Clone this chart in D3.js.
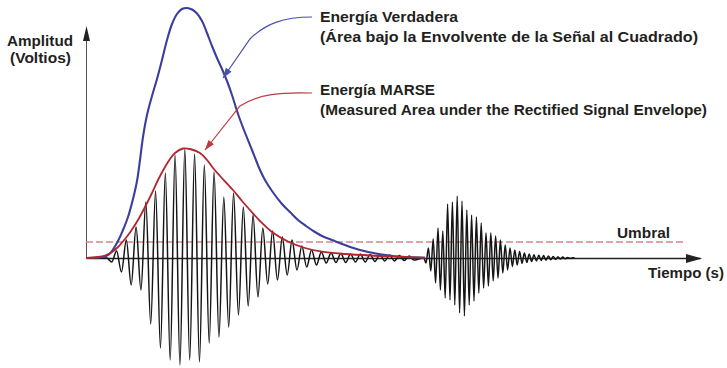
<!DOCTYPE html>
<html>
<head>
<meta charset="utf-8">
<script src="https://cdn.jsdelivr.net/npm/d3@7"></script>
<style>
  html, body { margin: 0; padding: 0; background: #fff; }
  svg { display: block; }
  text {
    font-family: "Liberation Sans", Arial, Helvetica, sans-serif;
    font-weight: bold;
    fill: #231f20;
  }
</style>
</head>
<body>
<div id="chart"></div>
<script>
// Time is in µs, amplitude in volts (both).

// First burst: alternating half-cycle extremes of the signal
const burst1Start = 12.85;
const burst1Half = 2.4375;
const burst1Peaks = [
  -0.04, 0.07, -0.14, 0.18, -0.27, 0.31, -0.32, 0.56, -0.66, 0.67,
  -0.90, 0.85, -1.02, 1.03, -1.07, 1.09, -1.02, 1.04, -1.04, 0.93,
  -0.85, 0.86, -0.79, 0.61, -0.69, 0.65, -0.57, 0.51, -0.48, 0.43,
  -0.39, 0.30, -0.26, 0.27, -0.22, 0.21, -0.17, 0.18, -0.12, 0.12,
  -0.09, 0.08, -0.07, 0.06, -0.05, 0.05, -0.045, 0.045, -0.045, 0.04,
  -0.04, 0.04, -0.04, 0.035, -0.035, 0.035, -0.03, 0.03, -0.03, 0.025,
  -0.025, 0.02, -0.02, -0.01, 0
];

// Second (later) burst
const burst2Start = 170;
const burst2Half = 1.2;
const burst2Peaks = [
  -0.05, 0.10, -0.13, 0.19, -0.25, 0.30, -0.32, 0.27, -0.40, 0.54,
  -0.42, 0.56, -0.47, 0.62, -0.55, 0.57, -0.58, 0.48, -0.47, 0.43,
  -0.43, 0.41, -0.35, 0.35, -0.30, 0.25, -0.28, 0.25, -0.23, 0.22,
  -0.20, 0.18, -0.15, 0.13, -0.12, 0.10, -0.085, 0.08, -0.07, 0.065,
  -0.055, 0.05, -0.045, 0.04, -0.035, 0.032, -0.03, 0.028, -0.026, 0.024,
  -0.022, 0.02, -0.018, 0.016, -0.015, 0.013, -0.011, 0.01, -0.008, 0.006,
  -0.004, 0.002, 0
];

// Rectified signal envelope (MARSE)
const envelopeTimes = [
  0, 6, 9.5, 13, 16, 19.5, 22.5, 26, 29.5, 33, 36, 39.5, 42, 44.5, 48.5,
  52, 57, 60.5, 63.5, 67, 73.5, 78, 82, 87, 93, 101, 109.5, 118, 129.5,
  142, 157, 169.5
];
const envelopeValues = [
  0, 0.01, 0.025, 0.06, 0.11, 0.19, 0.27, 0.38, 0.51, 0.65, 0.78, 0.91,
  0.99, 1.05, 1.095, 1.09, 1.05, 0.98, 0.90, 0.82, 0.68, 0.57, 0.48, 0.37,
  0.26, 0.165, 0.10, 0.063, 0.04, 0.025, 0.013, 0.004
];

// Squared signal envelope (true energy)
const squaredTimes = [
  0, 4.5, 7, 9.5, 12, 16, 18.5, 21, 23.5, 25.5, 27, 28.5, 30.5, 33, 35.5,
  38, 40.5, 43, 45.5, 48, 50.5, 53, 55.5, 58, 60.5, 63, 65.5, 68, 70.5,
  73, 75.5, 78, 83, 87, 89.5, 93, 98, 102, 106, 110, 114.5, 118.5, 123,
  129.5, 137, 147, 157, 169.5
];
const squaredValues = [
  0, 0.002, 0.006, 0.015, 0.045, 0.17, 0.28, 0.41, 0.59, 0.77, 0.98, 1.21,
  1.43, 1.62, 1.79, 1.98, 2.18, 2.34, 2.44, 2.49, 2.50, 2.485, 2.445, 2.37,
  2.25, 2.12, 2.00, 1.89, 1.77, 1.63, 1.47, 1.33, 1.08, 0.88, 0.78, 0.67,
  0.54, 0.46, 0.38, 0.32, 0.26, 0.215, 0.18, 0.13, 0.08, 0.037, 0.013, 0.002
];

const threshold = 0.16;
const thresholdEnd = 300;
const timeMax = 307;
const ampAxisTop = 2.30;

const blueLabel = ['Energía Verdadera', '(Área bajo la Envolvente de la Señal al Cuadrado)'];
const redLabel = ['Energía MARSE', '(Measured Area under the Rectified Signal Envelope)'];
const yLabel = ['Amplitud', '(Voltios)'];
const thresholdLabel = 'Umbral';
const xLabel = 'Tiempo (s)';

const width = 727;
const height = 368;

const svg = d3.select('#chart')
  .append('svg')
  .attr('width', width)
  .attr('height', height);

const x = d3.scaleLinear().domain([0, timeMax]).range([86, 700]);
const y = d3.scaleLinear().domain([-1.1, 2.58]).range([368, 0]);

const blue = '#3b3f9b';
const red = '#b3262e';

// Axes: plain lines with arrowheads, no ticks
const yAxisScale = y.copy().domain([0, ampAxisTop]).range([y(0), y(ampAxisTop)]);

svg.append('g')
  .attr('transform', `translate(0, ${y(0)})`)
  .call(d3.axisBottom(x).tickValues([]).tickSizeOuter(0))
  .select('.domain')
  .attr('stroke', '#222')
  .attr('stroke-width', 1.3);

svg.append('g')
  .attr('transform', `translate(${x(0)}, 0)`)
  .call(d3.axisLeft(yAxisScale).tickValues([]).tickSizeOuter(0))
  .select('.domain')
  .attr('stroke', '#555')
  .attr('stroke-width', 1);

svg.append('path')
  .attr('transform', `translate(${x(timeMax)}, ${y(0) + 0.5})`)
  .attr('d', 'M2,0 L-14,-4.5 L-14,4.5 Z')
  .attr('fill', '#222');

svg.append('path')
  .attr('transform', `translate(${x(0) + 0.5}, ${yAxisScale(ampAxisTop)})`)
  .attr('d', 'M0,-2 L-3.5,13 L3.5,13 Z')
  .attr('fill', '#222');

// Threshold
svg.append('line')
  .attr('x1', x(0))
  .attr('x2', x(thresholdEnd))
  .attr('y1', y(threshold))
  .attr('y2', y(threshold))
  .attr('stroke', '#d9848b')
  .attr('stroke-width', 1.5)
  .attr('stroke-dasharray', '7,3');

// Signal
const signal = [[0, 0], [burst1Start - burst1Half, 0]]
  .concat(burst1Peaks.map((a, i) => [burst1Start + i * burst1Half, a]))
  .concat(burst2Peaks.map((a, i) => [burst2Start + i * burst2Half, a]));

const line = d3.line()
  .x(d => x(d[0]))
  .y(d => y(d[1]))
  .curve(d3.curveMonotoneX);

svg.append('path')
  .attr('d', line(signal))
  .attr('fill', 'none')
  .attr('stroke', '#151515')
  .attr('stroke-width', 1.5);

const smooth = d3.line()
  .x(d => x(d[0]))
  .y(d => y(d[1]))
  .curve(d3.curveCatmullRom);

svg.append('path')
  .attr('d', smooth(squaredTimes.map((t, i) => [t, squaredValues[i]])))
  .attr('fill', 'none')
  .attr('stroke', blue)
  .attr('stroke-width', 2.1);

svg.append('path')
  .attr('d', smooth(envelopeTimes.map((t, i) => [t, envelopeValues[i]])))
  .attr('fill', 'none')
  .attr('stroke', red)
  .attr('stroke-width', 1.8);

// Call-out arrows from labels to curves
function callout(d, tip, color) {
  svg.append('path')
    .attr('d', d)
    .attr('fill', 'none')
    .attr('stroke', color)
    .attr('stroke-width', 1.2);
  const ang = Math.atan2(tip.dy, tip.dx) * 180 / Math.PI;
  svg.append('path')
    .attr('transform', `translate(${tip.x}, ${tip.y}) rotate(${ang})`)
    .attr('d', 'M0,0 L-10,-3.5 L-10,3.5 Z')
    .attr('fill', color);
}

const blueTip = { x: x(68.5), y: y(1.80) };
callout(
  `M312,17 C283,17 265,24 250,39 L${blueTip.x},${blueTip.y}`,
  { x: blueTip.x, y: blueTip.y, dx: blueTip.x - 250, dy: blueTip.y - 39 },
  '#4a4fae'
);

const redTip = { x: x(59.5), y: y(1.08) };
callout(
  `M312,93 C282,92 258,94 240,106 L${redTip.x},${redTip.y}`,
  { x: redTip.x, y: redTip.y, dx: redTip.x - 240, dy: redTip.y - 106 },
  '#bf3a40'
);

// Texts. The original face is wider than Liberation Sans, so each line is
// stretched to the width it has in the picture.
function label(text, px, py, w, anchor) {
  svg.append('text')
    .attr('x', px)
    .attr('y', py)
    .attr('text-anchor', anchor || 'start')
    .attr('textLength', w)
    .attr('lengthAdjust', 'spacingAndGlyphs')
    .style('font-size', '14px')
    .text(text);
}

label(blueLabel[0], 320, 22, 138);
label(blueLabel[1], 320, 42, 378);
label(redLabel[0], 320, 94.5, 115);
label(redLabel[1], 320, 114.5, 387);
label(yLabel[0], 7, 45.5, 66);
label(yLabel[1], 10, 63, 61);
label(thresholdLabel, 617, y(threshold) - 4.5, 53);
label(xLabel, 648, y(0) + 19.5, 76);
</script>
</body>
</html>
